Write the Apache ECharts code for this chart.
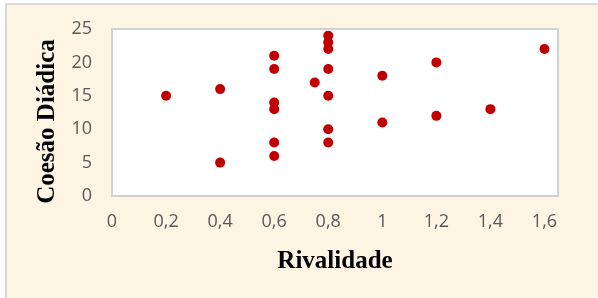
<!DOCTYPE html>
<html><head><meta charset="utf-8">
<script src="https://cdn.jsdelivr.net/npm/echarts@6/dist/echarts.min.js"></script>
<style>html,body{margin:0;padding:0;background:#fff}#c{width:598px;height:298px}</style>
</head><body><div id="c"></div>
<script>
const rivalidade = [0.2, 0.4, 0.4, 0.6, 0.6, 0.6, 0.6, 0.6, 0.6, 0.75, 0.8, 0.8, 0.8, 0.8, 0.8, 0.8, 0.8, 1.0, 1.0, 1.2, 1.2, 1.4, 1.6];
const coesao     = [15,  16,  5,   21,  19,  14,  13,  8,   6,   17,   24,  23,  22,  19,  15,  10,  8,   18,  11,  20,  12,  13,  22];
const xTitle = 'Rivalidade';
const yTitle = 'Coesão Diádica';

const chart = echarts.init(document.getElementById('c'), null, {renderer: 'canvas'});
const labelFont = {color: '#595959', fontSize: 18, fontFamily: 'Open Sans'};
chart.setOption({
  backgroundColor: '#ffffff',
  animation: false,
  graphic: [{
    type: 'rect', z: -10, silent: true,
    shape: {x: 6, y: 4, width: 700, height: 400},
    style: {fill: '#fef4e4', stroke: '#d9d9d9', lineWidth: 2}
  }],
  grid: {left: 112, top: 29, right: 40, bottom: 102, show: true, backgroundColor: '#ffffff', borderColor: '#d0d0d0', borderWidth: 2},
  xAxis: {
    type: 'value', min: 0, max: 1.65, interval: 0.2,
    name: xTitle, nameLocation: 'middle', nameGap: 53,
    nameTextStyle: {fontFamily: 'Liberation Serif', fontWeight: 'bold', fontSize: 25, color: '#000'},
    axisLine: {show: false}, axisTick: {show: false}, splitLine: {show: false},
    axisLabel: Object.assign({margin: 17, showMaxLabel: false,
      formatter: v => String(+v.toFixed(2)).replace('.', ',')}, labelFont)
  },
  yAxis: {
    type: 'value', min: 0, max: 25, interval: 5,
    name: yTitle, nameLocation: 'middle', nameGap: 44,
    nameTextStyle: {fontFamily: 'Liberation Serif', fontWeight: 'bold', fontSize: 25, color: '#000', padding: [0, 18, 0, 0]},
    axisLine: {show: false}, axisTick: {show: false}, splitLine: {show: false},
    axisLabel: Object.assign({margin: 20}, labelFont)
  },
  series: [{
    type: 'scatter', symbol: 'circle', symbolSize: 10,
    itemStyle: {color: '#c00000', opacity: 1},
    data: rivalidade.map((x, i) => [x, coesao[i]])
  }]
});
</script></body></html>
